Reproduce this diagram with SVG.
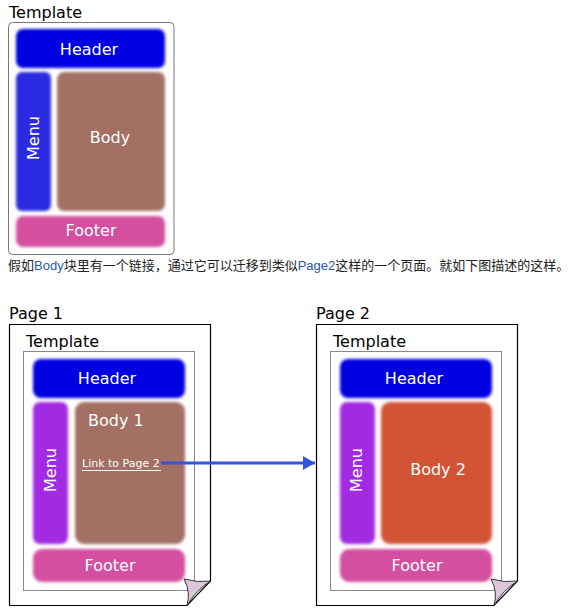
<svg xmlns="http://www.w3.org/2000/svg" width="577" height="609" viewBox="0 0 577 609">
<defs>
<filter id="blur" x="-10%" y="-10%" width="120%" height="120%"><feGaussianBlur stdDeviation="1.6"/></filter>
<marker id="arr" markerWidth="12" markerHeight="14" refX="12" refY="7" orient="auto" markerUnits="userSpaceOnUse"><path d="M0,0 L12,7 L0,14 Z" fill="#3355dd"/></marker>
</defs>
<style>
.lbl{font-family:"DejaVu Sans",sans-serif;font-size:16px;fill:#000}
.w{font-family:"DejaVu Sans",sans-serif;font-size:16px;fill:#fff;text-anchor:middle}
.frame{fill:#fff;stroke:#777;stroke-width:1}
.page{fill:#fff;stroke:#000;stroke-width:1.2}
.hdr{fill:#0000e0}
.menu1{fill:#2b2be0}
.menu{fill:#a22ae2}
.body{fill:#a37063}
.body2{fill:#d35235}
.foot{fill:#d44f9f}
.fold{fill:#dcc6d8;stroke:#333;stroke-width:1}
</style>

<g id="template">
<text class="lbl" x="9" y="18">Template</text>
<rect class="frame" x="8.5" y="22.5" width="165.5" height="232" rx="4"/>
<rect class="hdr" x="16" y="29" width="149" height="39" rx="7" filter="url(#blur)"/>
<rect class="menu1" x="16" y="72" width="35" height="139" rx="6" filter="url(#blur)"/>
<rect class="body" x="57" y="72" width="108" height="139" rx="7" filter="url(#blur)"/>
<rect class="foot" x="16" y="216" width="149" height="31" rx="7" filter="url(#blur)"/>
<text class="w" x="89" y="55">Header</text>
<text class="w" transform="translate(39,138) rotate(-90)">Menu</text>
<text class="w" x="110" y="143">Body</text>
<text class="w" x="91" y="236">Footer</text>
</g>

<g id="caption">
<text x="8" y="270" style="font-family:'Liberation Sans','Noto Sans CJK SC',sans-serif;font-size:13px;fill:#222">假如<tspan fill="#2a5a9a">Body</tspan>块里有一个链接，通过它可以迁移到类似<tspan fill="#2a5a9a">Page2</tspan>这样的一个页面。就如下图描述的这样。</text>
</g>

<g id="page1">
<text class="lbl" x="9" y="319">Page 1</text>
<path class="page" d="M9.5,324.5 H210.5 V581 L187,605.5 H9.5 Z"/>
<text class="lbl" x="26" y="347">Template</text>
<rect x="23.5" y="351.5" width="171" height="239" fill="#fff" stroke="#888"/>
<rect class="hdr" x="33" y="359" width="152" height="39" rx="8" filter="url(#blur)"/>
<rect class="menu" x="33" y="402" width="35" height="142" rx="7" filter="url(#blur)"/>
<rect class="body" x="75" y="402" width="110" height="142" rx="9" filter="url(#blur)"/>
<rect class="foot" x="33" y="549" width="152" height="33" rx="9" filter="url(#blur)"/>
<text class="w" x="107" y="384">Header</text>
<text class="w" transform="translate(56,470) rotate(-90)">Menu</text>
<text class="w" x="88" y="426" style="text-anchor:start">Body 1</text>
<text x="82" y="467" style="font-family:'DejaVu Sans',sans-serif;font-size:11px;fill:#fff">Link to Page 2</text>
<line x1="82" y1="470.5" x2="161" y2="470.5" stroke="#fff" stroke-width="1"/>
<text class="w" x="110" y="571">Footer</text>
<path class="fold" d="M184,579 Q198,583 210.5,581 Q196,590 187,605.5 Q191,592 184,579 Z"/>
</g>

<g id="page2">
<text class="lbl" x="316" y="319">Page 2</text>
<path class="page" d="M316.5,324.5 H517.5 V581 L494,605.5 H316.5 Z"/>
<text class="lbl" x="333" y="347">Template</text>
<rect x="330.5" y="351.5" width="171" height="239" fill="#fff" stroke="#888"/>
<rect class="hdr" x="340" y="359" width="152" height="39" rx="8" filter="url(#blur)"/>
<rect class="menu" x="340" y="402" width="35" height="142" rx="7" filter="url(#blur)"/>
<rect class="body2" x="381" y="402" width="111" height="142" rx="9" filter="url(#blur)"/>
<rect class="foot" x="340" y="549" width="152" height="33" rx="9" filter="url(#blur)"/>
<text class="w" x="414" y="384">Header</text>
<text class="w" transform="translate(362,470) rotate(-90)">Menu</text>
<text class="w" x="438" y="475">Body 2</text>
<text class="w" x="417" y="571">Footer</text>
<path class="fold" d="M491,579 Q505,583 517.5,581 Q503,590 494,605.5 Q498,592 491,579 Z"/>
</g>

<g id="connectors">
<line x1="161" y1="463" x2="315" y2="463" stroke="#3355dd" stroke-width="3" marker-end="url(#arr)"/>
</g>
</svg>
